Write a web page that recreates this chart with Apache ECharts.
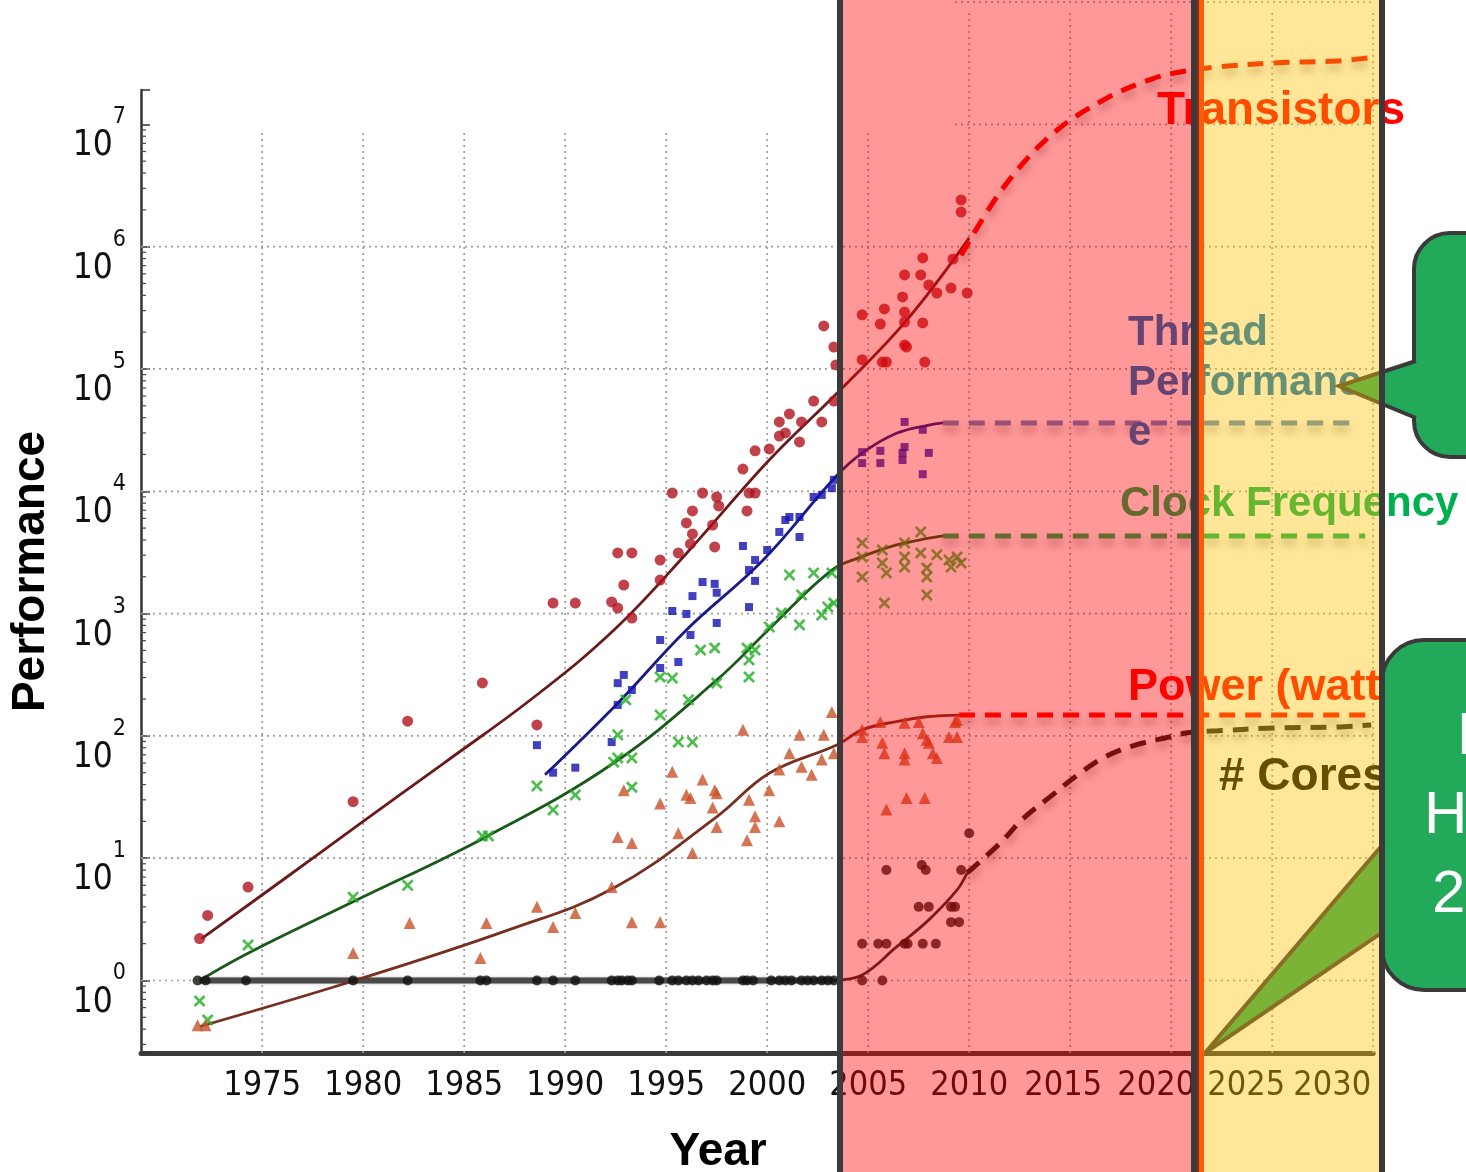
<!DOCTYPE html>
<html><head><meta charset="utf-8">
<script src="https://cdn.jsdelivr.net/npm/echarts@6/dist/echarts.min.js"></script>
<style>html,body{margin:0;padding:0;background:#fff}#c{width:1466px;height:1172px}</style>
</head><body><div id="c"></div>
<script>
// ---------------- data (year, value) ----------------
const transistorPoints = [[1971.9,2.2],[1972.3,3.4],[1974.3,5.8],[1979.5,29],[1982.2,132],[1985.9,271],[1988.6,123],[1989.4,1220],[1990.5,1220],[1992.3,1245],[1992.6,1110],[1992.9,1710],[1993.3,920],[1992.6,3130],[1993.3,3130],[1994.7,2740],[1994.7,1880],[1995.3,9680],[1995.6,3130],[1996.0,5510],[1996.3,6900],[1996.3,4480],[1996.2,3710],[1996.8,9680],[1997.3,5300],[1997.4,3510],[1997.5,8980],[1997.6,7590],[1998.8,15200],[1999.0,6900],[1999.1,9680],[1999.4,9680],[1999.4,21400],[2000.1,22200],[2000.6,36900],[2000.6,28300],[2000.9,30000],[2001.1,42900],[2001.6,25300],[2001.7,36900],[2002.3,54700],[2002.7,36900],[2002.8,225000],[2003.3,151000],[2003.4,108000],[2003.3,54700],[2004.7,277000],[2005.6,233000],[2005.8,310000],[2004.7,119000],[2005.7,114000],[2005.9,114000],[2006.8,587000],[2006.7,388000],[2006.8,292000],[2006.8,242000],[2006.8,157000],[2006.9,151000],[2007.7,809000],[2007.6,587000],[2007.7,238000],[2007.8,114000],[2008.0,486000],[2008.4,418000],[2009.1,459000],[2009.2,793000],[2009.6,2410000],[2009.6,1920000],[2009.9,418000]];
const threadPoints = [[1988.6,84],[1989.4,50],[1990.5,55],[1992.3,89],[1992.6,270],[1992.9,315],[1993.3,237],[1992.6,179],[1994.7,608],[1994.7,359],[1995.3,1050],[1995.6,402],[1996.0,993],[1996.3,1390],[1996.2,668],[1996.8,1810],[1997.4,1750],[1997.5,1480],[1997.5,838],[1998.8,3570],[1999.1,1130],[1999.1,2270],[1999.4,2740],[1999.4,1850],[2000.0,3310],[2000.6,4650],[2000.9,5820],[2001.1,6160],[2001.6,6160],[2001.6,4230],[2002.3,8980],[2002.7,9330],[2003.2,10600],[2003.3,12400],[2004.7,20900],[2004.7,17000],[2005.6,21400],[2005.6,17000],[2006.7,20600],[2006.8,23000],[2006.7,18000],[2006.8,36900],[2007.7,31800],[2008.0,20600],[2007.7,13800]];
const frequencyPoints = [[1971.9,0.68],[1972.3,0.475],[1974.3,1.95],[1979.5,4.8],[1982.2,6.0],[1985.9,15.2],[1986.2,15.2],[1988.6,39],[1989.4,24.8],[1990.5,32.9],[1992.4,61],[1992.6,66],[1992.6,102],[1993.3,66],[1993.3,38],[1993.0,197],[1994.7,148],[1994.7,303],[1995.3,297],[1995.6,89],[1996.3,89],[1996.1,197],[1996.7,504],[1997.4,523],[1997.5,270],[1999.0,523],[1999.4,504],[1999.1,418],[1999.1,303],[2000.1,778],[2000.7,1013],[2001.1,2070],[2001.6,808],[2001.7,1420],[2002.3,2150],[2002.7,975],[2003.0,1133],[2003.2,2150],[2003.3,1220],[2004.7,3780],[2004.7,2900],[2004.7,1990],[2005.7,3310],[2005.7,2590],[2005.9,2150],[2005.8,1220],[2006.8,3780],[2006.8,2900],[2006.8,2400],[2007.6,4650],[2007.6,3130],[2007.9,2360],[2007.9,1990],[2007.9,1420],[2008.4,3020],[2009.0,2740],[2009.4,2900],[2009.6,2590],[2009.1,2400]];
const powerPoints = [[1971.8,0.43],[1972.2,0.43],[1979.5,1.68],[1982.3,2.95],[1985.8,1.53],[1986.1,2.95],[1988.6,4.0],[1989.4,2.74],[1990.5,3.56],[1992.3,5.8],[1993.3,3.0],[1994.7,3.0],[1992.6,14.9],[1993.3,13.3],[1992.9,36],[1994.7,28],[1995.3,51],[1995.6,16],[1996.0,33],[1996.2,31],[1996.3,11],[1996.8,44],[1997.4,36],[1997.5,34],[1997.3,26],[1997.5,18],[1998.8,112],[1999.1,30],[1999.4,22],[1999.4,18],[1999.0,14],[2000.1,36],[2000.6,20],[2000.6,53],[2001.1,72],[2001.6,102],[2001.7,56],[2002.2,48],[2002.7,64],[2002.8,102],[2003.2,157],[2003.3,72],[2004.7,112],[2004.7,98],[2005.6,130],[2005.7,88],[2005.8,72],[2006.8,128],[2006.8,72],[2006.8,64],[2007.5,130],[2007.7,105],[2007.9,93],[2008.0,88],[2008.2,72],[2008.4,66],[2009.0,98],[2009.4,98],[2009.3,130],[2009.4,135],[2005.9,25],[2006.9,31],[2007.8,31]];
const corePoints = [[1971.8,1],[1972.2,1],[1974.2,1],[1979.5,1],[1982.2,1],[1985.8,1],[1986.1,1],[1988.6,1],[1989.4,1],[1990.5,1],[1992.3,1],[1992.6,1],[1992.8,1],[1993.1,1],[1993.3,1],[1994.65,1],[1995.3,1],[1995.6,1],[1996.0,1],[1996.3,1],[1996.6,1],[1997.0,1],[1997.3,1],[1997.5,1],[1998.8,1],[1999.0,1],[1999.3,1],[2000.2,1],[2000.6,1],[2000.9,1],[2001.2,1],[2001.7,1],[2002.0,1],[2002.3,1],[2002.7,1],[2003.0,1],[2003.3,1],[2004.7,1],[2005.7,1],[2004.7,2],[2005.5,2],[2005.9,2],[2006.8,2],[2006.95,2],[2007.7,2],[2008.35,2],[2005.9,8],[2007.65,8.8],[2007.85,8],[2007.5,4],[2008.0,4],[2009.6,8],[2009.1,4],[2009.3,4],[2009.1,3],[2009.5,3],[2010.0,16]];

// fitted trend lines
const transistorFit = [[1972,2.2],[1976,6.6],[1980,20],[1984,60],[1988.4,204],[1992.4,730],[1996,3100],[2000.1,18000],[2003.6,67000],[2006.9,250000],[2010,1180000]];
const threadFit = [[1989,48],[1992.6,185],[1996,735],[1999.8,2740],[2003.4,13200],[2004.7,20500],[2006.4,29800],[2008,34800],[2008.7,36200]];
const frequencyFit = [[1971.9,1],[1974.3,1.67],[1979.5,4.4],[1986.1,15],[1992.4,60],[1997.5,286],[2000.2,777],[2003.2,2270],[2004.7,2920],[2006.4,3640],[2008,4130],[2008.7,4310]];
const powerFit = [[1971.9,0.42],[1979.5,0.99],[1987.2,2.59],[1992.4,5.7],[1997.5,21.8],[2000.1,49.5],[2003.5,85],[2004.7,112],[2006.4,131],[2008,144],[2009.5,148]];
const coresFlat = [[1971.9,1],[2003.3,1]];
const coresFit = [[2003.3,1],[2004.7,1.11],[2006.4,1.88],[2008,3.13],[2009.4,5.5],[2009.9,7.6]];

// dashed projections
const transistorProj = [[2009.6,850000],[2011.7,3050000],[2014.1,8300000],[2016.7,16000000],[2019.1,23700000],[2020.7,27300000],[2022.3,29500000],[2025.1,31800000],[2028.2,33000000],[2030.2,35600000]];
const threadProj = [[2008.7,36200],[2029.2,36200]];
const frequencyProj = [[2008.7,4310],[2029.6,4310]];
const powerProj = [[2009.5,148],[2029.8,148]];
const coresProj = [[2009.9,7.6],[2011.5,13.1],[2012.7,21.3],[2014,31.7],[2015.3,47],[2016.7,67],[2018.1,83],[2019.9,98],[2020.8,106],[2022.3,110],[2025.1,116],[2028.2,118],[2029.9,123]];

// axis ticks / grid
const yearLabels = [1975,1980,1985,1990,1995,2000,2005,2010,2015,2020,2025,2030];
const gridValuesLeft = [1,10,100,1000,10000,100000,1000000];
const gridValuesRight = [10000000,100000000];
const gridYearsLow = [1975,1980,1985,1990,1995,2000,2005];
const gridYearsHigh = [2010,2015,2020,2025,2030];
const minorMultipliers = [2,3,4,5,6,7,8,9];
const minorDecades = [0.1,1,10,100,1000,10000,100000,1000000,10000000];

const X_MIN = 1969, X_MAX = 2030, Y_MIN = 0.2553, Y_MAX = 19100000;

const gridSegments = [];
gridValuesLeft.forEach(v => gridSegments.push([X_MIN, v, X_MAX, v]));
gridValuesRight.forEach(v => gridSegments.push([2009.3, v, X_MAX, v]));
gridYearsLow.forEach(y => gridSegments.push([y, Y_MIN, y, 9000000]));
gridYearsHigh.forEach(y => gridSegments.push([y, Y_MIN, y, 86000000]));

const minorTicks = [];
minorDecades.forEach(d => minorMultipliers.forEach(m => { const v = d*m; if (v > Y_MIN && v < Y_MAX) minorTicks.push([X_MIN, v]); }));

const labelShift = {2015: 7, 2020: 15, 2025: 26, 2030: 41};

const NARROW = "'Liberation Sans Narrow','DejaVu Sans Condensed',sans-serif";
const SANS = "'Liberation Sans',Arial,sans-serif";
const XFS = 34;

const xRich = {};
Object.keys(labelShift).forEach(k => { xRich['k'+k] = {fontFamily: NARROW, fontSize: XFS, color: '#111', padding: [0, labelShift[k]*2, 0, 0]}; });

const chart = echarts.init(document.getElementById('c'), null, {renderer: 'canvas', width: 1466, height: 1172});

const xSymbol = 'path://M0,1.6 L1.6,0 L5,3.4 L8.4,0 L10,1.6 L6.6,5 L10,8.4 L8.4,10 L5,6.6 L1.6,10 L0,8.4 L3.4,5 Z';
const shadow = {shadowColor: 'rgba(0,0,0,0.35)', shadowBlur: 8, shadowOffsetY: 6};

function fitLine(data, color, width, z) {
  return {type: 'line', data, showSymbol: false, smooth: 0.4, z: z || 3, silent: true,
    lineStyle: {color, width}};
}
function dashLine(data, color) {
  return {type: 'line', data, showSymbol: false, smooth: 0.35, z: 4, clip: false, silent: true,
    lineStyle: Object.assign({color, width: 5, type: [16, 10]}, shadow)};
}

const option = {
  animation: false,
  backgroundColor: '#fff',
  grid: {left: 141, top: 90, width: 1232.2, height: 963, outerBoundsMode: 'none', containLabel: false},
  xAxis: {
    type: 'value', min: X_MIN, max: X_MAX, minInterval: 5, maxInterval: 5,
    axisLine: {lineStyle: {color: '#3a3a3a', width: 5}},
    axisTick: {show: false}, splitLine: {show: false},
    axisLabel: {
      margin: 16, fontFamily: NARROW, fontSize: XFS, color: '#111',
      showMaxLabel: true, hideOverlap: false,
      formatter: v => {
        if (yearLabels.indexOf(v) < 0) return '';
        return labelShift[v] ? '{k' + v + '|' + v + '}' : String(v);
      },
      rich: xRich
    },
    name: 'Year', nameLocation: 'middle', nameGap: 76,
    nameTextStyle: {fontFamily: SANS, fontWeight: 'bold', fontSize: 46, color: '#000', padding: [0, 78, 0, 0]}
  },
  yAxis: {
    type: 'log', logBase: 10, min: Y_MIN, max: Y_MAX,
    axisLine: {lineStyle: {color: '#333', width: 2.5}},
    axisTick: {inside: true, length: 9, lineStyle: {color: '#333', width: 1.5}},
    splitLine: {show: false},
    axisLabel: {
      margin: 15,
      formatter: v => {
        const e = Math.log10(v), r = Math.round(e);
        if (Math.abs(e - r) > 1e-3) return '';
        return '{b|10}{s|' + r + '}';
      },
      rich: {
        b: {fontFamily: NARROW, fontSize: 35, height: 36, lineHeight: 80, color: '#111', verticalAlign: 'bottom'},
        s: {fontFamily: NARROW, fontSize: 23, height: 66, lineHeight: 80, color: '#111', verticalAlign: 'top'}
      }
    },
    name: 'Performance', nameLocation: 'middle', nameGap: 87, nameRotate: 90,
    nameTextStyle: {fontFamily: SANS, fontWeight: 'bold', fontSize: 46, color: '#000'}
  },
  series: [
    {type: 'custom', data: gridSegments, clip: false, silent: true, z: 1,
      renderItem: (p, api) => {
        const a = api.coord([api.value(0), api.value(1)]);
        const b = api.coord([api.value(2), api.value(3)]);
        return {type: 'line', shape: {x1: a[0], y1: a[1], x2: b[0], y2: b[1]},
          style: {stroke: '#9c9c9c', lineWidth: 1.7, lineDash: [2, 4]}};
      }},
    {type: 'custom', data: minorTicks, clip: false, silent: true, z: 2,
      renderItem: (p, api) => {
        const a = api.coord([api.value(0), api.value(1)]);
        return {type: 'line', shape: {x1: a[0], y1: a[1], x2: a[0] + 5, y2: a[1]},
          style: {stroke: '#444', lineWidth: 1.2}};
      }},
    Object.assign(fitLine(coresFlat, '#4a4a4a', 6, 2), {lineStyle: {color: '#4a4a4a', width: 6, shadowColor: 'rgba(0,0,0,0.3)', shadowBlur: 3}}),
    fitLine(transistorFit, '#6a1a1a', 2.8),
    fitLine(threadFit, '#1a1a88', 2.8),
    fitLine(frequencyFit, '#1b581b', 2.8),
    fitLine(powerFit, '#773020', 2.8),
    fitLine(coresFit, '#2a2a2a', 2.8),
    dashLine(transistorProj, '#f20000'),
    dashLine(threadProj, '#5586c2'),
    dashLine(frequencyProj, '#00b050'),
    dashLine(powerProj, '#ff0000'),
    dashLine(coresProj, '#1c1c1c'),
    {type: 'scatter', data: transistorPoints, symbol: 'circle', symbolSize: 11, z: 5, silent: true, itemStyle: {color: '#b0131d'}},
    {type: 'scatter', data: threadPoints, symbol: 'rect', symbolSize: 8, z: 5, silent: true, itemStyle: {color: '#1212b0'}},
    {type: 'scatter', data: frequencyPoints, symbol: xSymbol, symbolSize: 12, z: 5, silent: true, itemStyle: {color: '#22ad22'}},
    {type: 'scatter', data: powerPoints, symbol: 'triangle', symbolSize: 12, z: 5, silent: true, itemStyle: {color: '#c8522a'}},
    {type: 'scatter', data: corePoints, symbol: 'circle', symbolSize: 10, z: 5, silent: true, itemStyle: {color: '#111'}}
  ],
  graphic: {elements: [
    // annotation texts (beneath the translucent overlays)
    {type: 'text', x: 1157, y: 111, z: 10, style: {text: 'Transistors', font: 'bold 46px ' + SANS, fill: '#ff0000', align: 'left', verticalAlign: 'middle'}},
    {type: 'text', x: 1128, y: 333, z: 10, style: {text: 'Thread', font: 'bold 42px ' + SANS, fill: '#0070c0', align: 'left', verticalAlign: 'middle'}},
    {type: 'text', x: 1128, y: 383, z: 10, style: {text: 'Performanc', font: 'bold 42px ' + SANS, fill: '#0070c0', align: 'left', verticalAlign: 'middle'}},
    {type: 'text', x: 1128, y: 433, z: 10, style: {text: 'e', font: 'bold 42px ' + SANS, fill: '#0070c0', align: 'left', verticalAlign: 'middle'}},
    {type: 'text', x: 1120, y: 504, z: 10, style: {text: 'Clock Frequency', font: 'bold 42px ' + SANS, fill: '#00b050', align: 'left', verticalAlign: 'middle'}},
    {type: 'text', x: 1128, y: 688, z: 10, style: {text: 'Power (watts)', font: 'bold 45px ' + SANS, fill: '#ff0000', align: 'left', verticalAlign: 'middle'}},
    {type: 'text', x: 1219, y: 777, z: 10, style: {text: '# Cores', font: 'bold 46px ' + SANS, fill: '#000', align: 'left', verticalAlign: 'middle'}},
    // callouts
    {type: 'rect', z: 20, shape: {x: 1414, y: 233, width: 120, height: 224, r: 36}, style: {fill: '#22aa5a', stroke: '#3a3a3a', lineWidth: 4}},
    {type: 'polygon', z: 21, shape: {points: [[1420, 360], [1339, 386], [1420, 419]]}, style: {fill: '#22aa5a'}},
    {type: 'polyline', z: 21, shape: {points: [[1416, 361], [1339, 386], [1416, 418]]}, style: {stroke: '#3a3a3a', lineWidth: 4, fill: null}},
    {type: 'rect', z: 20, shape: {x: 1382, y: 640, width: 140, height: 350, r: 42}, style: {fill: '#22aa5a', stroke: '#3a3a3a', lineWidth: 4}},
    {type: 'polygon', z: 21, shape: {points: [[1390, 836], [1205, 1053], [1390, 924]]}, style: {fill: '#22aa5a'}},
    {type: 'polyline', z: 21, shape: {points: [[1384, 843], [1205, 1053], [1384, 931]]}, style: {stroke: '#3a3a3a', lineWidth: 4, fill: null}},
    {type: 'text', x: 1457, y: 737, z: 22, style: {text: 'E', font: '60px ' + SANS, fill: '#fff', align: 'left', verticalAlign: 'middle'}},
    {type: 'text', x: 1424, y: 816, z: 22, style: {text: 'H', font: '60px ' + SANS, fill: '#fff', align: 'left', verticalAlign: 'middle'}},
    {type: 'text', x: 1432, y: 895, z: 22, style: {text: '2', font: '60px ' + SANS, fill: '#fff', align: 'left', verticalAlign: 'middle'}},
    // translucent era overlays
    {type: 'rect', z: 30, shape: {x: 840, y: 0, width: 357, height: 1172}, style: {fill: 'rgba(255,0,0,0.4)'}},
    {type: 'rect', z: 30, shape: {x: 1197, y: 0, width: 185, height: 1172}, style: {fill: 'rgba(255,192,0,0.4)'}},
    // overlay borders
    {type: 'rect', z: 40, shape: {x: 837, y: 0, width: 6, height: 1172}, style: {fill: '#3a3a3a'}},
    {type: 'rect', z: 40, shape: {x: 1191, y: 0, width: 6, height: 1172}, style: {fill: '#3a3a3a'}},
    {type: 'rect', z: 40, shape: {x: 1197, y: 0, width: 2, height: 1172}, style: {fill: '#8a2a1a'}},
    {type: 'rect', z: 40, shape: {x: 1199, y: 0, width: 5, height: 1172}, style: {fill: '#ff5a0a'}},
    {type: 'rect', z: 40, shape: {x: 1379, y: 0, width: 6, height: 1172}, style: {fill: '#3a3a3a'}}
  ]}
};
chart.setOption(option);
</script>
</body></html>
